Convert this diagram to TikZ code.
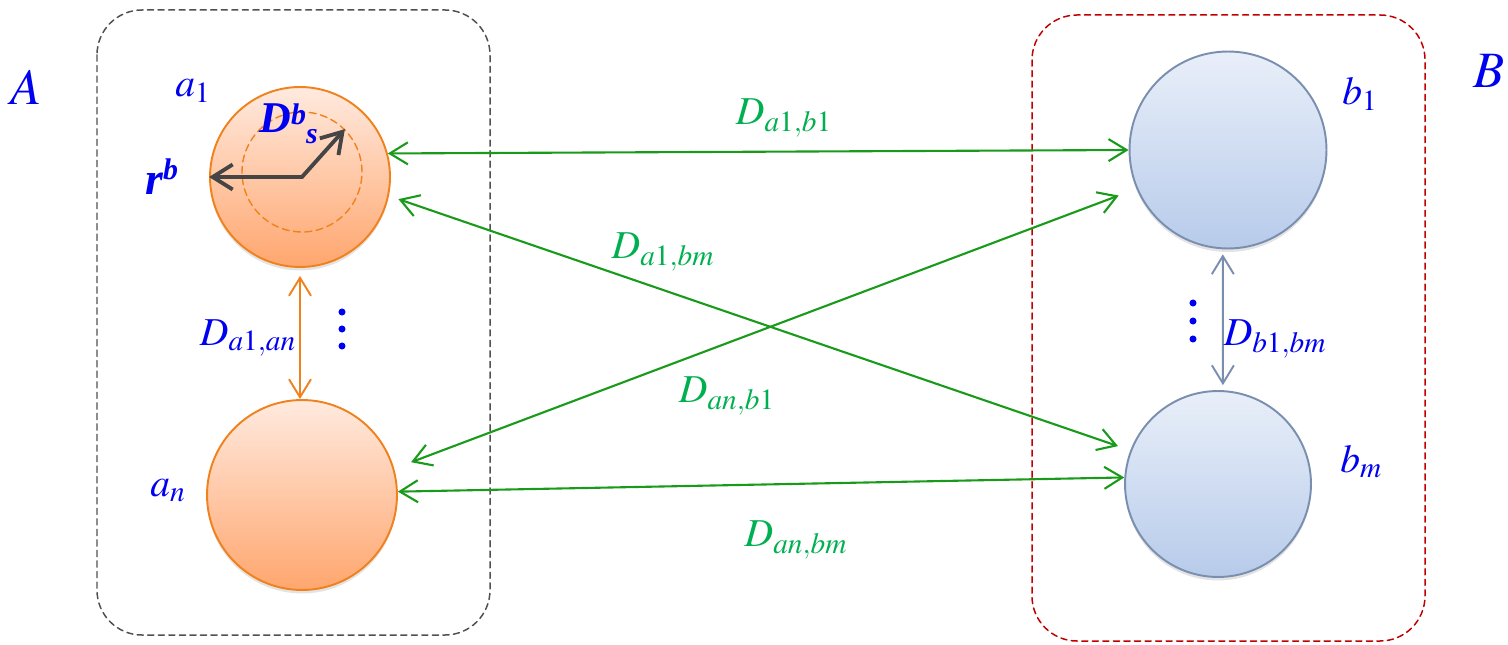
\documentclass[tikz,border=0pt]{standalone}
\usepackage{mathptmx}
\usepackage{fontspec}
\setmainfont{Liberation Serif}
\usetikzlibrary{arrows.meta,shadows}

\definecolor{ballorange}{HTML}{F0821E}
\definecolor{orangetop}{HTML}{FFEADF}
\definecolor{orangebot}{HTML}{FFA66E}
\definecolor{ballblue}{HTML}{7A8FB0}
\definecolor{bluetop}{HTML}{E9EFF9}
\definecolor{bluebot}{HTML}{B7CBEA}
\definecolor{linkgreen}{HTML}{1A9A1A}
\definecolor{labelgreen}{HTML}{00B050}
\definecolor{labelblue}{HTML}{0000F0}
\definecolor{boxred}{HTML}{C00000}
\definecolor{boxgray}{HTML}{505050}
\definecolor{radiusgray}{HTML}{454545}

\begin{document}
\begin{tikzpicture}[x=0.02cm, y=-0.02cm, line cap=round, line join=round,
  >={Straight Barb[length=3.6mm,width=4.4mm]},
  orangeball/.style={circle, draw=ballorange, line width=1.1pt, inner sep=0,
    top color=orangetop, bottom color=orangebot,
    drop shadow={opacity=0.22, shadow xshift=0pt, shadow yshift=-2pt}},
  blueball/.style={circle, draw=ballblue, line width=1.1pt, inner sep=0,
    top color=bluetop, bottom color=bluebot,
    drop shadow={opacity=0.22, shadow xshift=0pt, shadow yshift=-2pt}},
  groupbox/.style={line width=0.85pt, dash pattern=on 3.5pt off 2.5pt, rounded corners=0.9cm},
  link/.style={<->, draw=linkgreen, line width=1.2pt},
  glab/.style={text=labelgreen, inner sep=0, font=\fontsize{22.5}{26}\selectfont},
  blab/.style={text=labelblue, inner sep=0, font=\fontsize{22.5}{26}\selectfont},
  biglab/.style={text=labelblue, inner sep=0, anchor=base west, font=\fontsize{29}{34}\selectfont},
  radiusarrow/.style={draw=radiusgray, line width=2.2pt, -{Straight Barb[length=4mm,width=5mm]}}]
  \useasboundingbox (0,0) rectangle (1508,645);

  % The two groups
  \draw[groupbox, draw=boxgray] (97,10) rectangle (490,635);
  \draw[groupbox, draw=boxred] (1032,15) rectangle (1425,641);

  % Balls of group A and group B
  \node[orangeball, minimum size=3.6cm] (a1) at (300,177) {};
  \node[orangeball, minimum size=3.8cm] (an) at (302,495) {};
  \node[blueball, minimum size=3.94cm] (b1) at (1228,150) {};
  \node[blueball, minimum size=3.72cm] (bm) at (1218,484) {};

  % Inner core of a1 with the two radii
  \node[circle, draw=ballorange, line width=0.8pt, dash pattern=on 4pt off 2.5pt,
    minimum size=2.4cm, inner sep=0] (core) at (302,172) {};
  \coordinate (o) at (302,177);
  \draw[radiusarrow] (o) -- (a1.west);
  \draw[radiusarrow] (o) -- (core.45);

  % Distances between the groups
  \draw[link] (a1.15) -- (b1.180);
  \draw[link, shorten <=0.2cm, shorten >=0.26cm] (a1.-12) -- (bm.159);
  \draw[link, shorten <=0.36cm, shorten >=0.38cm] (an.16) -- (b1.-157);
  \draw[link] (an.2) -- (bm.176);

  % Distances inside the groups
  \draw[<->, draw=ballorange, line width=1.1pt, shorten <=0.16cm] (a1.south) -- (a1.south |- an.north);
  \draw[<->, draw=ballblue, line width=1.1pt, shorten <=0.1cm, shorten >=0.1cm] (b1.-93) -- (bm.87);
  \foreach \y in {312,329,346} \fill[labelblue] (342,\y) circle (2pt);
  \foreach \y in {303,321,339} \fill[labelblue] (1193,\y) circle (2pt);

  % Labels
  \node[biglab] (labA) at (10,105) {$A$};
  \node[biglab] (labB) at (1473,88) {$B$};
  \node[blab, anchor=base west] (la1) at (175,97) {$a_1$};
  \node[blab, anchor=base west] (lan) at (150,496) {$a_n$};
  \node[blab, anchor=base west] (lb1) at (1342,105) {$b_1$};
  \node[blab, anchor=base west] (lbm) at (1340,472) {$b_m$};
  \node[glab] (d11) at (784,118) {$D_{a1,b1}$};
  \node[glab] (d1m) at (663,252) {$D_{a1,bm}$};
  \node[glab] (dn1) at (727,396) {$D_{an,b1}$};
  \node[glab] (dnm) at (796,540) {$D_{an,bm}$};
  \node[blab] (d1n) at (248,338) {$D_{a1,an}$};
  \node[blab] (dbb) at (1275,339) {$D_{b1,bm}$};
  \node[blab, anchor=base west, font=\fontsize{25}{29}\selectfont\bfseries\itshape] (ds) at (259,133)
    {D\raisebox{0.2em}{\fontsize{17}{20}\selectfont b}\raisebox{-0.24em}{\fontsize{17}{20}\selectfont s}};
  \node[blab, anchor=base west, font=\fontsize{26}{30}\selectfont\bfseries\itshape] (rb) at (145,195)
    {r\raisebox{0.34em}{\fontsize{17}{20}\selectfont b}};
\end{tikzpicture}
\end{document}
